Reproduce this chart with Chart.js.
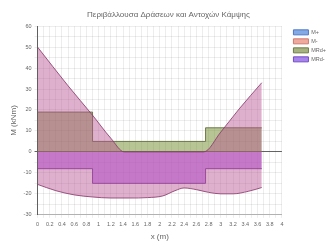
<!DOCTYPE html>
<html>
<head>
<meta charset="utf-8">
<script src="https://cdn.jsdelivr.net/npm/chart.js@4.4.1/dist/chart.umd.min.js"></script>
<style>
  html, body { margin: 0; padding: 0; background: #fff; }
  #wrap { width: 328px; height: 242px; }
</style>
</head>
<body>
<div id="wrap"><canvas id="envelope-chart"></canvas></div>
<script>
// Data
const seriesLabels = ['M+', 'M-', 'MRd+', 'MRd-'];

const mPlusX = [0, 0.5, 0.9, 1.2, 1.42, 2.72, 3.0, 3.3, 3.67];
const mPlusY = [50, 31.5, 17.5, 6.5, 0, 0, 9.5, 20.5, 33];

const mMinusX = [0, 0.3, 0.6, 0.9, 1.2, 1.5, 1.8, 2.05, 2.25, 2.4, 2.6, 2.8, 3.0, 3.2, 3.45, 3.67];
const mMinusY = [-15.5, -18.5, -20.5, -21.5, -22, -22, -21.8, -21, -18.5, -17.2, -18, -19.3, -20, -20, -18.8, -17];

const mrdPlusX = [0, 0.9, 2.75, 3.67];
const mrdPlusY = [19, 5, 11.5, 11.5];

const mrdMinusX = [0, 0.9, 2.75, 3.67];
const mrdMinusY = [-8, -15, -8, -8];

const legendFill = ['rgba(110,155,225,0.85)', 'rgba(235,155,140,0.85)', 'rgba(150,165,105,0.85)', 'rgba(150,110,230,0.85)'];
const legendStroke = ['rgb(80,120,200)', 'rgb(210,120,110)', 'rgb(110,125,70)', 'rgb(115,75,200)'];

const toPoints = (xs, ys) => xs.map((x, i) => ({ x: x, y: ys[i] }));

// push the legend items a bit away from the plot
const legendShift = {
  id: 'legendShift',
  afterLayout(chart) {
    chart.legend.left += 8;
    chart.legend.right += 8;
  }
};

const showEnvelopeChart = () => {
  Chart.defaults.font.family = "'Liberation Sans', Arial, sans-serif";
  Chart.defaults.color = '#666';

  const ctx = document.getElementById('envelope-chart');

  const data = {
    datasets: [{
      label: seriesLabels[0],
      data: toPoints(mPlusX, mPlusY),
      borderColor: 'rgba(140,60,110,0.85)',
      backgroundColor: 'rgba(185,80,145,0.45)',
      borderWidth: 1,
      fill: 'origin',
      cubicInterpolationMode: 'monotone',
    }, {
      label: seriesLabels[1],
      data: toPoints(mMinusX, mMinusY),
      borderColor: 'rgba(140,60,110,0.85)',
      backgroundColor: 'rgba(185,80,145,0.45)',
      borderWidth: 1,
      fill: 'origin',
      cubicInterpolationMode: 'monotone',
    }, {
      label: seriesLabels[2],
      data: toPoints(mrdPlusX, mrdPlusY),
      borderColor: 'rgba(100,110,60,0.9)',
      backgroundColor: 'rgba(110,140,40,0.5)',
      borderWidth: 1,
      fill: 'origin',
      stepped: 'before',
    }, {
      label: seriesLabels[3],
      data: toPoints(mrdMinusX, mrdMinusY),
      borderColor: 'rgba(100,40,140,0.8)',
      backgroundColor: 'rgba(170,70,240,0.55)',
      borderWidth: 1,
      fill: 'origin',
      stepped: 'before',
    }]
  };

  new Chart(ctx, {
    type: 'line',
    data: data,
    plugins: [legendShift],
    options: {
      responsive: true,
      maintainAspectRatio: false,
      animation: false,
      elements: { point: { radius: 0 } },
      layout: { padding: { left: 9, right: 0, bottom: 0 } },
      scales: {
        x: {
          type: 'linear',
          min: 0,
          max: 4,
          ticks: {
            stepSize: 0.1,
            autoSkip: false,
            maxRotation: 0,
            font: { size: 5.5 },
            padding: 3,
            callback: (v, i) => (i % 2 === 0 ? String(Number(v.toFixed(1))) : ''),
          },
          grid: { color: 'rgba(0,0,0,0.07)', tickLength: 3 },
          border: { color: 'rgba(0,0,0,0.25)' },
          title: { display: true, text: 'x (m)', font: { size: 8 }, padding: { top: 2, bottom: 0 } },
        },
        y: {
          min: -30,
          max: 60,
          ticks: {
            stepSize: 5,
            font: { size: 5.5 },
            padding: 3,
            callback: (v) => (v % 10 === 0 ? v : ''),
          },
          grid: {
            color: (c) => (c.tick && c.tick.value === 0 ? 'rgba(60,60,60,0.8)' : 'rgba(0,0,0,0.07)'),
            tickLength: 3,
          },
          border: { color: 'rgba(60,60,60,0.8)' },
          title: { display: true, text: 'M (kNm)', font: { size: 8 }, padding: { top: 0, bottom: 2 } },
        }
      },
      plugins: {
        title: {
          display: true,
          text: 'Περιβάλλουσα Δράσεων και Αντοχών Κάμψης',
          font: { size: 8, weight: 'normal' },
          padding: { top: 10, bottom: 6.5 },
        },
        legend: {
          display: true,
          position: 'right',
          align: 'start',
          fullSize: false,
          labels: {
            boxWidth: 15,
            boxHeight: 5,
            padding: 3.5,
            font: { size: 5.5 },
            generateLabels: (chart) => Chart.defaults.plugins.legend.labels.generateLabels(chart).map((l, i) => ({
              ...l,
              fillStyle: legendFill[i],
              strokeStyle: legendStroke[i],
            })),
          },
        },
        tooltip: { enabled: false },
      }
    }
  });
};

document.addEventListener('DOMContentLoaded', showEnvelopeChart);
</script>
</body>
</html>
